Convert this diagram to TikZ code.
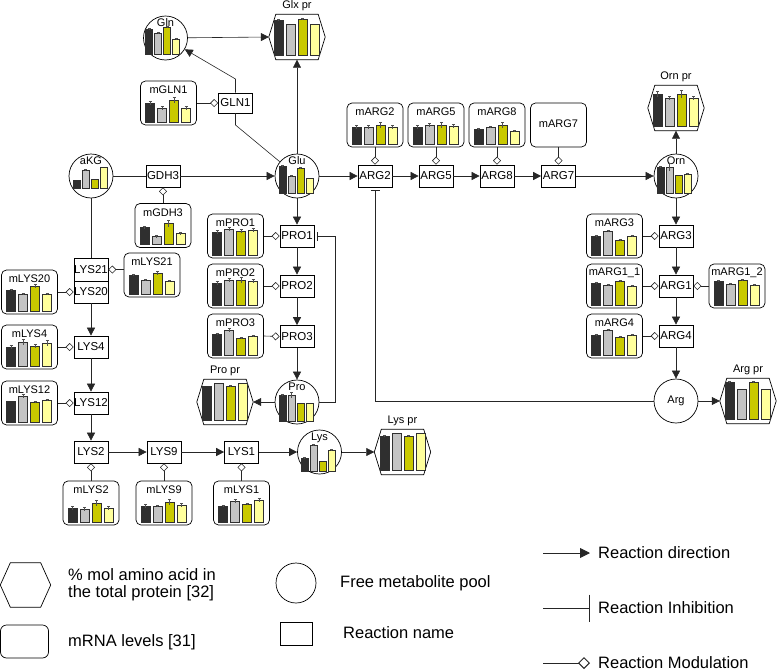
\documentclass[tikz,border=0pt]{standalone}
\usepackage{fontspec}
\setmainfont{Liberation Sans}
\usetikzlibrary{arrows.meta}
\definecolor{bar1}{HTML}{2F2F2F}
\definecolor{bar2}{HTML}{C4C4C4}
\definecolor{bar3}{HTML}{C9C900}
\definecolor{bar4}{HTML}{FFFF9C}
\definecolor{bardraw}{HTML}{303030}
\definecolor{errc}{HTML}{505050}
\definecolor{lnc}{HTML}{262626}
\newcommand{\rfont}{\fontsize{11.5}{13}\selectfont}
\newcommand{\tfont}{\fontsize{11}{13}\selectfont}
\newcommand{\lgfont}{\fontsize{16.5}{17}\selectfont}
\newcommand{\drawbars}[6]{%
  \foreach \hh/\ee [count=\ii] in {#6} {%
    \pgfmathsetmacro{\xl}{#1+#4+(\ii-1)*#5}%
    \pgfmathsetmacro{\xr}{\xl+#3}%
    \pgfmathsetmacro{\xm}{\xl+#3/2}%
    \pgfmathsetmacro{\yt}{#2-\hh}%
    \filldraw[fill=bar\ii, draw=bardraw, line width=0.4pt] (\xl,#2) rectangle (\xr,\yt);%
    \ifdim \ee pt>0pt
      \draw[draw=errc, line width=0.4pt] (\xm,\yt-\ee) -- (\xm,\yt+\ee) (\xm-1.5,\yt-\ee) -- (\xm+1.5,\yt-\ee);%
    \fi
  }}
\newcommand{\mrnabox}[5]{%
  \node[mrna] (#1) at (#2,#3) {};
  \drawbars{#2}{#3+19}{9}{-23}{12}{#5}
  \node[ttl] (#1t) at (#2,#3-13) {#4};}
\newcommand{\metnode}[7]{%
  \node[met] (#1) at (#2,#3) {};
  \node[ttl, anchor=base] (#1t) at (#2,#3-12) {#4};
  \drawbars{#2}{#5}{7}{#6}{9}{#7}}
\newcommand{\hexpath}[2]{%
  \draw[line width=0.7pt] ([xshift=#2]#1.north west) -- ([xshift=-#2]#1.north east) -- (#1.east) -- ([xshift=-#2]#1.south east) -- ([xshift=#2]#1.south west) -- (#1.west) -- cycle;}
\newcommand{\protnode}[6]{%
  \node[prot] (#1) at (#2,#3) {};
  \hexpath{#1}{7pt}
  \node[ttl, anchor=south] (#1t) at ([yshift=3pt]#1.north) {#4};
  \drawbars{#2}{#3+18}{9}{#5}{12}{#6}}
\tikzset{
  rxn/.style={draw, rectangle, minimum width=34pt, minimum height=22pt, inner sep=0pt, font=\rfont, line width=0.7pt},
  mrna/.style={draw, rounded corners=5pt, minimum width=56pt, minimum height=44pt, inner sep=0pt, line width=0.7pt},
  met/.style={draw, circle, minimum size=44pt, inner sep=0pt, line width=0.7pt},
  prot/.style={rectangle, minimum width=56pt, minimum height=45pt, inner sep=0pt},
  ttl/.style={font=\tfont, inner sep=0pt},
  lgt/.style={font=\lgfont, inner sep=0pt, anchor=west, align=left},
  lin/.style={draw=lnc, line width=0.6pt},
  arr/.style={draw=lnc, line width=0.6pt, -{Triangle[length=8pt,width=8pt]}},
  modl/.style={draw=lnc, line width=0.6pt, -{Diamond[open,length=8pt,width=8pt,line width=0.6pt]}},
  inh/.style={draw=lnc, line width=0.6pt, -{Bar[width=9pt,line width=0.9pt]}, shorten >=3pt},
}
\begin{document}
\begin{tikzpicture}[x=1pt,y=-1pt]
\useasboundingbox (0,0) rectangle (777,672);

% ---------- metabolite pools ----------
\metnode{gln}{165.5}{38}{Gln}{54}{-20}{25/1,21/1,27/1,15/1}
\metnode{glu}{297}{176}{Glu}{193}{-18}{27/1,17/1,25/1,15/0}
\metnode{akg}{91}{176}{aKG}{188}{-18}{8/0,18/1,9/0,21/0}
\metnode{orn}{676}{176}{Orn}{193}{-19}{26/1,26/4,18/0,19/1}
\metnode{pro}{297}{402}{Pro}{421}{-18}{26/1,26/3,18/0,18/0}
\metnode{lys}{319.5}{452}{Lys}{471}{-18.5}{13/1,26/1,10/0,21/1}
\node[met] (arg) at (676,401) {};
\node[ttl] (argt) at (676,401) {Arg};

% ---------- protein hexagons ----------
\protnode{glxpr}{297}{37}{Glx pr}{-23}{35/1,31/0,36/1,31/0}
\protnode{ornpr}{676}{108}{Orn pr}{-23}{32/3,28/2,32/4,28/2}
\protnode{propr}{225}{402}{Pro pr}{-23}{34/0,37/0,34/1,37/0}
\protnode{lyspr}{402.5}{452}{Lys pr}{-22.5}{34/1,37/0,34/1,37/0}
\protnode{argpr}{748}{401}{Arg pr}{-23}{37/1,30/0,37/1,30/0}

% ---------- reactions ----------
\node[rxn, minimum height=20pt] (gln1) at (235.5,103) {GLN1};
\node[rxn] (gdh3) at (163,176) {GDH3};
\node[rxn] (pro1) at (297,236) {PRO1};
\node[rxn] (pro2) at (297,286) {PRO2};
\node[rxn] (pro3) at (297,336.5) {PRO3};
\node[rxn, minimum height=23pt] (lys21) at (91,269.5) {LYS21};
\node[rxn] (lys20) at (91,292) {LYS20};
\node[rxn] (lys4) at (91,347) {LYS4};
\node[rxn] (lys12) at (91,403) {LYS12};
\node[rxn] (lys2) at (91,452) {LYS2};
\node[rxn] (lys9) at (164,452) {LYS9};
\node[rxn] (lys1) at (241.5,452) {LYS1};
\node[rxn] (arg2) at (375,176) {ARG2};
\node[rxn] (arg5) at (436,176) {ARG5};
\node[rxn] (arg8) at (497,176) {ARG8};
\node[rxn] (arg7) at (558.5,176) {ARG7};
\node[rxn] (arg3) at (676,236) {ARG3};
\node[rxn] (arg1) at (676,286) {ARG1};
\node[rxn] (arg4) at (676,336) {ARG4};

% ---------- mRNA boxes ----------
\mrnabox{mgln1}{168.5}{103}{mGLN1}{19/2,14/2,22/3,14/2}
\mrnabox{mgdh3}{163}{225.5}{mGDH3}{17/1,8/1,21/3,11/1}
\mrnabox{mpro1}{235.5}{236}{mPRO1}{23/2,26/2,24/2,25/2}
\mrnabox{mpro2}{235.5}{286}{mPRO2}{22/2,25/2,25/3,24/2}
\mrnabox{mpro3}{235.5}{336}{mPRO3}{21/1,25/2,17/1,19/1}
\mrnabox{mlys21}{152}{275}{mLYS21}{19/1,14/1,21/2,13/1}
\mrnabox{mlys20}{29.5}{292}{mLYS20}{21/1,17/1,25/2,17/1}
\mrnabox{mlys4}{29.5}{347}{mLYS4}{19/2,24/3,20/2,23/3}
\mrnabox{mlys12}{29.5}{403}{mLYS12}{21/0,26/2,20/1,22/1}
\mrnabox{mlys2}{91}{503}{mLYS2}{14/2,13/2,19/3,14/2}
\mrnabox{mlys9}{164}{503}{mLYS9}{16/2,16/1,20/3,17/2}
\mrnabox{mlys1}{241.5}{503}{mLYS1}{16/1,21/2,18/1,22/2}
\mrnabox{marg2}{375}{125}{mARG2}{17/2,17/2,19/3,17/2}
\mrnabox{marg5}{436}{125}{mARG5}{17/2,19/2,19/3,18/2}
\mrnabox{marg8}{497}{125}{mARG8}{15/1,17/1,19/3,13/1}
\node[mrna] (marg7) at (558.5,125) {};
\node[ttl] (marg7t) at (558.5,124) {mARG7};
\mrnabox{marg3}{614.5}{236}{mARG3}{19/1,24/1,15/1,19/1}
\mrnabox{marg1a}{614.5}{286}{mARG1\_1}{22/1,20/1,24/1,19/1}
\mrnabox{marg1b}{737}{286}{mARG1\_2}{24/1,21/1,25/1,20/1}
\mrnabox{marg4}{614.5}{336}{mARG4}{20/1,25/1,18/1,20/1}

% ---------- connectors ----------
\coordinate (gA) at (235.5,125);
\coordinate (gB) at (235.5,79);
\draw[lin] (glu) -- (gA) -- (gln1.south);
\draw[arr] (gln1.north) -- (gB) -- (gln);
\draw[arr] (gln) -- (glxpr.west);
\draw[arr] (glu.north) -- (glxpr.south);
\draw[lin] (akg.east) -- (gdh3.west);
\draw[arr] (gdh3.east) -- (glu.west);
\draw[arr] (glu.south) -- (pro1.north);
\draw[arr] (pro1.south) -- (pro2.north);
\draw[arr] (pro2.south) -- (pro3.north);
\draw[arr] (pro3.south) -- (pro.north);
\draw[arr] (pro.west) -- (propr.east);
\coordinate (pA) at (335,402);
\coordinate (pB) at (335,236);
\draw[inh] (pro.east) -- (pA) -- (pB) -- (pro1.east);
\draw[arr] (glu.east) -- (arg2.west);
\draw[arr] (arg2.east) -- (arg5.west);
\draw[arr] (arg5.east) -- (arg8.west);
\draw[arr] (arg8.east) -- (arg7.west);
\draw[arr] (arg7.east) -- (orn.west);
\draw[arr] (orn.north) -- (ornpr.south);
\draw[arr] (orn.south) -- (arg3.north);
\draw[arr] (arg3.south) -- (arg1.north);
\draw[arr] (arg1.south) -- (arg4.north);
\draw[arr] (arg4.south) -- (arg.north);
\draw[arr] (arg.east) -- (argpr.west);
\coordinate (aA) at (375,401);
\draw[inh] (arg.west) -- (aA) -- (arg2.south);
\draw[lin] (akg.south) -- (lys21.north);
\draw[arr] (lys20.south) -- (lys4.north);
\draw[arr] (lys4.south) -- (lys12.north);
\draw[arr] (lys12.south) -- (lys2.north);
\draw[arr] (lys2.east) -- (lys9.west);
\draw[arr] (lys9.east) -- (lys1.west);
\draw[arr] (lys1.east) -- (lys.west);
\draw[arr] (lys.east) -- (lyspr.west);

% modulations
\draw[modl] (mgln1.east) -- (gln1.west);
\draw[modl] (mgdh3.north) -- (gdh3.south);
\draw[modl] (mpro1.east) -- (pro1.west);
\draw[modl] (mpro2.east) -- (pro2.west);
\draw[modl] (mpro3.east) -- (pro3.west);
\draw[modl] (mlys21.west |- lys21.east) -- (lys21.east);
\draw[modl] (mlys20.east) -- (lys20.west);
\draw[modl] (mlys4.east) -- (lys4.west);
\draw[modl] (mlys12.east) -- (lys12.west);
\draw[modl] (mlys2.north) -- (lys2.south);
\draw[modl] (mlys9.north) -- (lys9.south);
\draw[modl] (mlys1.north) -- (lys1.south);
\draw[modl] (marg2.south) -- (arg2.north);
\draw[modl] (marg5.south) -- (arg5.north);
\draw[modl] (marg8.south) -- (arg8.north);
\draw[modl] (marg7.south) -- (arg7.north);
\draw[modl] (marg3.east) -- (arg3.west);
\draw[modl] (marg1a.east) -- (arg1.west);
\draw[modl] (marg1b.west) -- (arg1.east);
\draw[modl] (marg4.east) -- (arg4.west);

% ---------- legend ----------
\node[prot, minimum width=50pt, minimum height=44pt] (lhex) at (25.5,585) {};
\hexpath{lhex}{10pt}
\node[lgt] (lhext) at (68,585) {\% mol amino acid in\\the total protein [32]};
\node[mrna, minimum width=48pt, minimum height=33pt, rounded corners=6pt] (lbox) at (24.5,641.5) {};
\node[lgt] (lboxt) at (68,642) {mRNA levels [31]};
\node[met, minimum size=40pt] (lcirc) at (296,583) {};
\node[lgt] (lcirct) at (340,583) {Free metabolite pool};
\node[rxn, minimum width=32pt, minimum height=23pt] (lrect) at (296,633.5) {};
\node[lgt] (lrectt) at (343,633) {Reaction name};
\coordinate (l1a) at (543,553);
\coordinate (l1b) at (590,553);
\draw[draw=lnc, line width=0.9pt, -{Triangle[length=10pt,width=10pt]}] (l1a) -- (l1b);
\node[lgt] (l1t) at (598,553) {Reaction direction};
\coordinate (l2a) at (543,608);
\coordinate (l2b) at (590,608);
\draw[draw=lnc, line width=0.9pt, -{Bar[width=27pt,line width=0.9pt]}] (l2a) -- (l2b);
\node[lgt] (l2t) at (598,608) {Reaction Inhibition};
\coordinate (l3a) at (543,663);
\coordinate (l3b) at (590,663);
\draw[draw=lnc, line width=0.9pt, -{Diamond[open,length=12pt,width=12pt,line width=0.9pt]}] (l3a) -- (l3b);
\node[lgt] (l3t) at (598,663) {Reaction Modulation};
\end{tikzpicture}
\end{document}
